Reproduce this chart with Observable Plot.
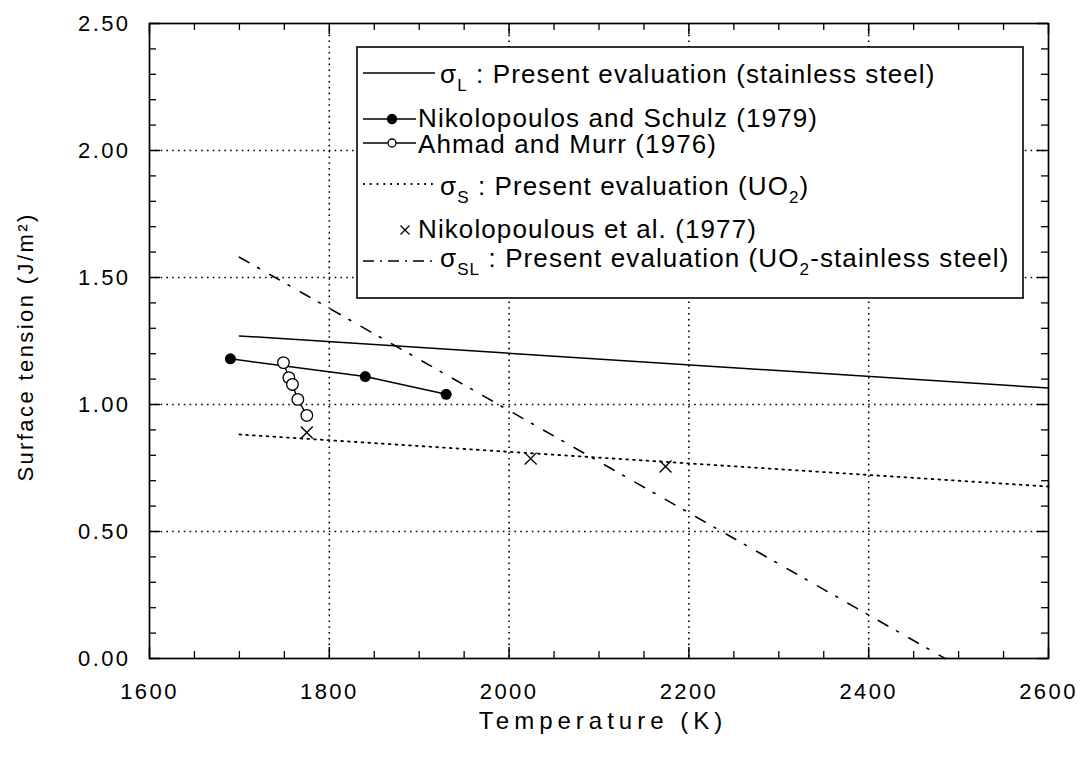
<!DOCTYPE html>
<html><head><meta charset="utf-8">
<script src="https://cdn.jsdelivr.net/npm/d3@7"></script>
<script src="https://cdn.jsdelivr.net/npm/@observablehq/plot@0.6"></script>
<style>body{margin:0;background:#fff}</style>
</head><body><div id="chart"></div>
<script>
// ---- data ----
const sigmaL_T = [1700, 2600];
const sigmaL_V = [1.27, 1.065];
const nikSchulz_T = [1690, 1840, 1930];
const nikSchulz_V = [1.18, 1.11, 1.04];
const ahmadMurr_T = [1749, 1755, 1759, 1765, 1775];
const ahmadMurr_V = [1.165, 1.106, 1.079, 1.020, 0.957];
const sigmaS_T = [1700, 2600];
const sigmaS_V = [0.882, 0.677];
const nik1977_T = [1775, 2024, 2174];
const nik1977_V = [0.89, 0.787, 0.756];
const sigmaSL_T = [1700, 2485];
const sigmaSL_V = [1.58, 0.0];

const xTicks = [1600, 1800, 2000, 2200, 2400, 2600];
const yTicks = [0, 0.5, 1.0, 1.5, 2.0, 2.5];
const xGrid = [1800, 2000, 2200, 2400];
const yGrid = [0.5, 1.0, 1.5, 2.0];
const xMinor = [1650,1700,1750,1850,1900,1950,2050,2100,2150,2250,2300,2350,2450,2500,2550];
const yMinor = [0.1,0.2,0.3,0.4,0.6,0.7,0.8,0.9,1.1,1.2,1.3,1.4,1.6,1.7,1.8,1.9,2.1,2.2,2.3,2.4];

const xTitle = "Temperature (K)";
const yTitle = "Surface tension (J/m²)";

const tab = (T, V) => T.map((t, i) => ({t, v: V[i]}));

const W = 1085, H = 772, mL = 149, mR = 37, mT = 23, mB = 114;
const innerH = H - mT - mB, innerW = W - mL - mR;
const minorLen = 7, majorLen = 11;

const plot = Plot.plot({
  width: W, height: H,
  marginLeft: mL, marginRight: mR, marginTop: mT, marginBottom: mB,
  x: {domain: [1600, 2600], label: null},
  y: {domain: [0, 2.5], label: null},
  style: {fontFamily: "'Liberation Sans', Arial, sans-serif", fontSize: "22px", background: "white", color: "black", overflow: "visible"},
  marks: [
    Plot.gridX(xGrid, {stroke: "black", strokeOpacity: 1, strokeWidth: 1.6, strokeDasharray: "1.6,4.2"}),
    Plot.gridY(yGrid, {stroke: "black", strokeOpacity: 1, strokeWidth: 1.6, strokeDasharray: "1.6,4.2"}),
    // inward ticks on all sides
    Plot.tickX(xMinor, {x: d => d, insetTop: innerH - minorLen, stroke: "black", strokeWidth: 1.3}),
    Plot.tickX(xMinor, {x: d => d, insetBottom: innerH - minorLen, stroke: "black", strokeWidth: 1.3}),
    Plot.tickX(xTicks, {x: d => d, insetTop: innerH - majorLen, stroke: "black", strokeWidth: 1.5}),
    Plot.tickX(xTicks, {x: d => d, insetBottom: innerH - majorLen, stroke: "black", strokeWidth: 1.5}),
    Plot.tickY(yMinor, {y: d => d, insetRight: innerW - minorLen, stroke: "black", strokeWidth: 1.3}),
    Plot.tickY(yMinor, {y: d => d, insetLeft: innerW - minorLen, stroke: "black", strokeWidth: 1.3}),
    Plot.tickY(yTicks, {y: d => d, insetRight: innerW - majorLen, stroke: "black", strokeWidth: 1.5}),
    Plot.tickY(yTicks, {y: d => d, insetLeft: innerW - majorLen, stroke: "black", strokeWidth: 1.5}),
    Plot.frame({stroke: "black", strokeWidth: 1.7}),
    // series
    Plot.line(tab(sigmaL_T, sigmaL_V), {x: "t", y: "v", stroke: "black", strokeWidth: 1.5}),
    Plot.line(tab(sigmaS_T, sigmaS_V), {x: "t", y: "v", stroke: "black", strokeWidth: 1.8, strokeDasharray: "1.8,5"}),
    Plot.line(tab(sigmaSL_T, sigmaSL_V), {x: "t", y: "v", stroke: "black", strokeWidth: 1.6, strokeDasharray: "11,10,2,12"}),
    Plot.line(tab(nikSchulz_T, nikSchulz_V), {x: "t", y: "v", stroke: "black", strokeWidth: 1.5}),
    Plot.dot(tab(nikSchulz_T, nikSchulz_V), {x: "t", y: "v", r: 5.5, fill: "black"}),
    Plot.line(tab(ahmadMurr_T, ahmadMurr_V), {x: "t", y: "v", stroke: "black", strokeWidth: 1.3}),
    Plot.dot(tab(ahmadMurr_T, ahmadMurr_V), {x: "t", y: "v", r: 5.8, fill: "white", stroke: "black", strokeWidth: 1.3}),
    Plot.dot(tab(nik1977_T, nik1977_V), {x: "t", y: "v", symbol: "times", r: 5.5, stroke: "black", strokeWidth: 1.4}),
    // axes
    Plot.axisX(xTicks, {tickSize: 0, tickPadding: 25, tickFormat: d => String(d), fontSize: 22, label: null}),
    Plot.axisY(yTicks, {tickSize: 0, tickPadding: 19, tickFormat: d3.format(".2f"), fontSize: 22, label: null}),
    Plot.text([xTitle], {frameAnchor: "bottom", dx: 4, dy: 70, fontSize: 24, textAnchor: "middle", lineAnchor: "bottom"}),
    Plot.text([yTitle], {frameAnchor: "left", dx: -124, dy: 6, rotate: -90, fontSize: 22, textAnchor: "middle", lineAnchor: "middle"})
  ]
});
document.getElementById("chart").appendChild(plot);

const svg = d3.select(plot);
svg.style("letter-spacing", "2.4px");
// x-axis title is more widely spaced
svg.selectAll("text").filter(function () { return this.textContent === xTitle; }).style("letter-spacing", "5px");

// ---- legend ----
const legendRows = [
  {kind: "line", dash: null, base: 83, ly: 73, tx: 440, parts: [["σ"], ["L", 1], [" : Present evaluation (stainless steel)"]]},
  {kind: "filled", base: 127, ly: 119, tx: 418, parts: [["Nikolopoulos and Schulz (1979)"]]},
  {kind: "open", base: 153, ly: 143, tx: 418, parts: [["Ahmad and Murr (1976)"]]},
  {kind: "line", dash: "1.8,5", base: 195, ly: 184, tx: 440, parts: [["σ"], ["S", 1], [" : Present evaluation (UO"], ["2", 1], [")"]]},
  {kind: "cross", base: 238, ly: 230, tx: 418, parts: [["Nikolopoulous et al. (1977)"]]},
  {kind: "line", dash: "11,6,2,6", base: 267, ly: 261, tx: 440, parts: [["σ"], ["SL", 1], [" : Present evaluation (UO"], ["2", 1], ["-stainless steel)"]]}
];
const lg = svg.append("g").attr("class", "legend").style("letter-spacing", "1.1px").attr("text-anchor", "start");
lg.append("rect").attr("x", 357).attr("y", 47).attr("width", 666).attr("height", 251)
  .attr("fill", "white").attr("stroke", "black").attr("stroke-width", 1.6);
for (const r of legendRows) {
  const ly = r.ly;
  if (r.kind === "line") {
    lg.append("line").attr("x1", 363).attr("x2", 435).attr("y1", ly).attr("y2", ly)
      .attr("stroke", "black").attr("stroke-width", r.dash === "1.8,5" ? 1.8 : 1.5)
      .attr("stroke-dasharray", r.dash);
  } else if (r.kind === "filled" || r.kind === "open") {
    lg.append("line").attr("x1", 363).attr("x2", 416).attr("y1", ly).attr("y2", ly)
      .attr("stroke", "black").attr("stroke-width", 1.5);
    lg.append("circle").attr("cx", 392).attr("cy", ly).attr("r", r.kind === "filled" ? 4.5 : 4)
      .attr("fill", r.kind === "filled" ? "black" : "white").attr("stroke", "black").attr("stroke-width", 1.3);
  } else if (r.kind === "cross") {
    const s = 4.5, cx = 405;
    lg.append("path").attr("d", `M${cx - s},${ly - s}L${cx + s},${ly + s}M${cx - s},${ly + s}L${cx + s},${ly - s}`)
      .attr("stroke", "black").attr("stroke-width", 1.3);
  }
  const t = lg.append("text").attr("x", r.tx).attr("y", r.base).attr("font-size", 26)
    .attr("fill", "black").attr("text-anchor", "start");
  let sub = false;
  for (const [s, isSub] of r.parts) {
    const ts = t.append("tspan").text(s);
    if (isSub && !sub) { ts.attr("dy", 8).attr("font-size", 17); sub = true; }
    else if (isSub) { ts.attr("font-size", 17); }
    else if (sub) { ts.attr("dy", -8); sub = false; }
  }
}
</script>
</body></html>
